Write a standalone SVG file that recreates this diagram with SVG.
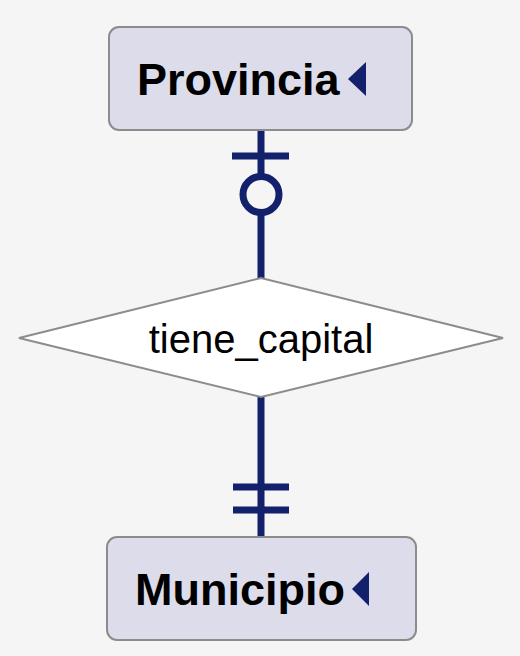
<svg xmlns="http://www.w3.org/2000/svg" width="520" height="656" viewBox="0 0 520 656">
<style>
.ent{fill:#dcdcea;stroke:#8c8c8c;stroke-width:2}
.rel{fill:#ffffff;stroke:#8c8c8c;stroke-width:2}
.et{font-family:"Liberation Sans",Arial,sans-serif;font-weight:bold;font-size:45px;fill:#000}
.rt{font-family:"Liberation Sans",Arial,sans-serif;font-size:40px;fill:#000;text-anchor:middle}
.tri{fill:#13206c}
.ln{stroke:#13206c;stroke-width:7;fill:none}
</style>
<rect width="520" height="656" fill="#f5f5f5"/>
<g id="connectors">
<line class="ln" x1="261" y1="130" x2="261" y2="278"/>
<line class="ln" x1="232" y1="156" x2="289" y2="156"/>
<circle class="ln" cx="261" cy="194.5" r="18" fill="#f5f5f5" style="fill:#f5f5f5"/>
<line class="ln" x1="261" y1="397" x2="261" y2="536"/>
<line class="ln" x1="233" y1="487" x2="289" y2="487"/>
<line class="ln" x1="233" y1="510" x2="289" y2="510"/>
</g>
<g id="provincia">
<rect class="ent" x="109" y="27" width="303" height="103" rx="10"/>
<text class="et" x="137" y="95">Provincia</text>
<polygon class="tri" points="348,79 366,62 366,96"/>
</g>
<g id="tiene_capital">
<polygon class="rel" points="19,338 261,278 503,338 261,397"/>
<text class="rt" x="261" y="353">tiene_capital</text>
</g>
<g id="municipio">
<rect class="ent" x="107" y="537" width="309" height="103" rx="10"/>
<text class="et" x="135" y="605">Municipio</text>
<polygon class="tri" points="352,589 369,572 369,606"/>
</g>
</svg>
